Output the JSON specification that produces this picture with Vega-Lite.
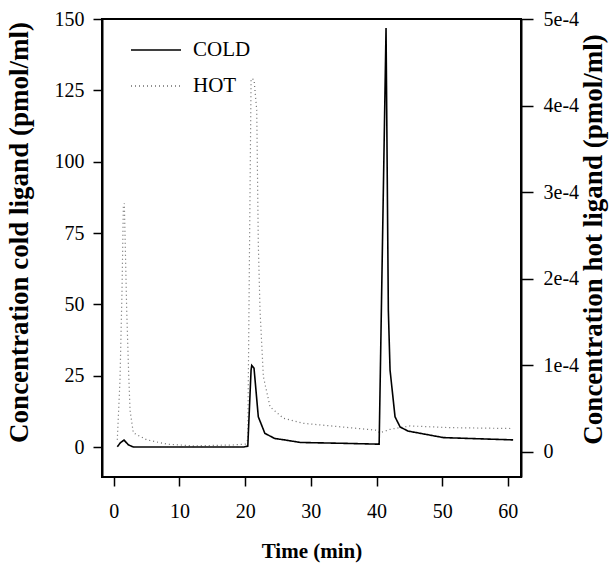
{
  "$schema": "https://vega.github.io/schema/vega-lite/v6.json",
  "autosize": {"type": "none"},
  "width": 419,
  "height": 458,
  "padding": {"left": 102, "top": 19, "right": 91, "bottom": 95},
  "background": "white",
  "config": {
    "view": {"stroke": "black", "strokeWidth": 2},
    "font": "Liberation Serif",
    "axis": {
      "labelFont": "Liberation Serif",
      "labelFontSize": 20,
      "labelColor": "black",
      "titleFont": "Liberation Serif",
      "titleFontSize": 21,
      "titleFontWeight": "bold",
      "titleColor": "black",
      "domainColor": "black",
      "domainWidth": 2,
      "tickColor": "black",
      "tickWidth": 1.5,
      "grid": false
    },
    "legend": {
      "labelFont": "Liberation Serif",
      "labelFontSize": 21,
      "labelColor": "black"
    }
  },
  "datasets": {
    "cold": [
      {"time": 0.53, "conc": 0.1, "series": "COLD"},
      {"time": 1.0, "conc": 1.5, "series": "COLD"},
      {"time": 1.55, "conc": 2.45, "series": "COLD"},
      {"time": 2.2, "conc": 0.8, "series": "COLD"},
      {"time": 2.97, "conc": 0.0, "series": "COLD"},
      {"time": 10.0, "conc": 0.0, "series": "COLD"},
      {"time": 19.7, "conc": 0.0, "series": "COLD"},
      {"time": 20.4, "conc": 0.3, "series": "COLD"},
      {"time": 20.9, "conc": 27.0, "series": "COLD"},
      {"time": 21.0, "conc": 28.6, "series": "COLD"},
      {"time": 21.35, "conc": 27.6, "series": "COLD"},
      {"time": 22.0, "conc": 10.6, "series": "COLD"},
      {"time": 23.0, "conc": 4.8, "series": "COLD"},
      {"time": 24.5, "conc": 3.0, "series": "COLD"},
      {"time": 26.0, "conc": 2.5, "series": "COLD"},
      {"time": 28.4, "conc": 1.6, "series": "COLD"},
      {"time": 35.0, "conc": 1.3, "series": "COLD"},
      {"time": 40.4, "conc": 1.0, "series": "COLD"},
      {"time": 41.45, "conc": 146.8, "series": "COLD"},
      {"time": 41.8, "conc": 48.0, "series": "COLD"},
      {"time": 42.06, "conc": 27.0, "series": "COLD"},
      {"time": 42.82, "conc": 10.6, "series": "COLD"},
      {"time": 43.6, "conc": 7.0, "series": "COLD"},
      {"time": 44.8, "conc": 5.6, "series": "COLD"},
      {"time": 50.2, "conc": 3.3, "series": "COLD"},
      {"time": 60.8, "conc": 2.5, "series": "COLD"}
    ],
    "hot": [
      {"time": 0.53, "conc": 0.000014, "series": "HOT"},
      {"time": 0.94, "conc": 0.000083, "series": "HOT"},
      {"time": 1.25, "conc": 0.000187, "series": "HOT"},
      {"time": 1.45, "conc": 0.000283, "series": "HOT"},
      {"time": 1.6, "conc": 0.000287, "series": "HOT"},
      {"time": 1.96, "conc": 0.000164, "series": "HOT"},
      {"time": 2.24, "conc": 0.000095, "series": "HOT"},
      {"time": 2.47, "conc": 0.000048, "series": "HOT"},
      {"time": 2.97, "conc": 0.000022, "series": "HOT"},
      {"time": 5.0, "conc": 0.000014, "series": "HOT"},
      {"time": 8.06, "conc": 0.000009, "series": "HOT"},
      {"time": 12.1, "conc": 0.000007, "series": "HOT"},
      {"time": 18.2, "conc": 0.000008, "series": "HOT"},
      {"time": 20.0, "conc": 0.000009, "series": "HOT"},
      {"time": 20.4, "conc": 0.000014, "series": "HOT"},
      {"time": 20.66, "conc": 0.000233, "series": "HOT"},
      {"time": 20.9, "conc": 0.000431, "series": "HOT"},
      {"time": 21.35, "conc": 0.00043, "series": "HOT"},
      {"time": 21.76, "conc": 0.000395, "series": "HOT"},
      {"time": 22.0, "conc": 0.000241, "series": "HOT"},
      {"time": 22.26, "conc": 0.000164, "series": "HOT"},
      {"time": 22.77, "conc": 0.000087, "series": "HOT"},
      {"time": 23.79, "conc": 0.000052, "series": "HOT"},
      {"time": 25.8, "conc": 0.000039, "series": "HOT"},
      {"time": 28.86, "conc": 0.000033, "series": "HOT"},
      {"time": 34.45, "conc": 0.000029, "series": "HOT"},
      {"time": 40.03, "conc": 0.000025, "series": "HOT"},
      {"time": 40.5, "conc": 0.000022, "series": "HOT"},
      {"time": 42.05, "conc": 0.000026, "series": "HOT"},
      {"time": 45.1, "conc": 0.00003, "series": "HOT"},
      {"time": 51.2, "conc": 0.000028, "series": "HOT"},
      {"time": 60.8, "conc": 0.000027, "series": "HOT"}
    ]
  },
  "layer": [
    {
      "data": {"name": "hot"},
      "mark": {"type": "line", "strokeWidth": 1.2, "clip": true},
      "encoding": {
        "x": {"field": "time", "type": "quantitative", "scale": {"domain": [-1.8, 62.0], "nice": false, "zero": false},
          "axis": {"title": "Time (min)", "values": [0, 10, 20, 30, 40, 50, 60], "tickSize": 9, "labelPadding": 15, "titlePadding": 19, "domain": false}},
        "y": {"field": "conc", "type": "quantitative", "scale": {"domain": [-0.000029, 0.0005], "nice": false, "zero": false},
          "axis": {"orient": "right", "title": "Concentration hot ligand (pmol/ml)", "titleFontSize": 27, "titleAngle": -90, "titleBaseline": "top", "values": [0, 0.0001, 0.0002, 0.0003, 0.0004, 0.0005], "labelExpr": "datum.value == 0 ? '0' : format(round(datum.value * 10000), 'd') + 'e-4'", "tickSize": 12, "labelPadding": 10, "titlePadding": 2, "titleY": 220}},
        "color": {"field": "series", "type": "nominal", "scale": {"domain": ["COLD", "HOT"], "range": ["black", "#6e6e6e"]},
          "legend": {"title": null, "orient": "none", "legendX": 28, "legendY": 21, "symbolType": "stroke", "symbolSize": 2500, "symbolStrokeWidth": 1.5, "clipHeight": 20, "rowPadding": 15, "labelOffset": 11}},
        "strokeDash": {"field": "series", "type": "nominal", "scale": {"domain": ["COLD", "HOT"], "range": [[1, 0], [1, 3]]},
          "legend": {"title": null, "orient": "none", "legendX": 28, "legendY": 21, "symbolType": "stroke", "symbolSize": 2500, "symbolStrokeWidth": 1.5, "clipHeight": 20, "rowPadding": 15, "labelOffset": 11}}
      }
    },
    {
      "data": {"name": "cold"},
      "mark": {"type": "line", "strokeWidth": 1.6, "clip": true},
      "encoding": {
        "x": {"field": "time", "type": "quantitative"},
        "y": {"field": "conc", "type": "quantitative", "scale": {"domain": [-10.5, 150], "nice": false, "zero": false},
          "axis": {"orient": "left", "title": "Concentration cold ligand (pmol/ml)", "titleFontSize": 27, "values": [0, 25, 50, 75, 100, 125, 150], "tickSize": 9, "labelPadding": 9, "titlePadding": 21, "titleY": 213}},
        "color": {"field": "series", "type": "nominal"},
        "strokeDash": {"field": "series", "type": "nominal"}
      }
    }
  ],
  "resolve": {"scale": {"y": "independent"}}
}
